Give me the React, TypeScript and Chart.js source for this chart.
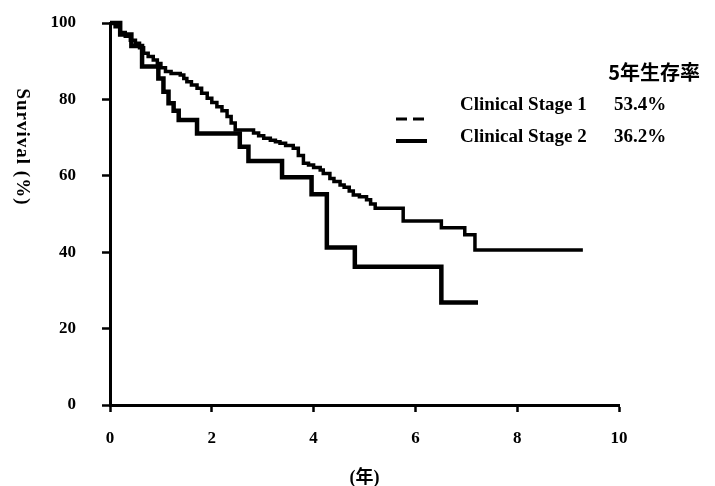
import React, { useEffect, useRef } from "react";
import { Chart, registerables } from "chart.js";

Chart.register(...registerables);

// Kaplan-Meier curves (years, survival %)
const stage1Years = [0, 0.1, 0.2, 0.3, 0.4, 0.5, 0.58, 0.66, 0.75, 0.85, 0.93, 1.0, 1.09, 1.2, 1.38, 1.45, 1.51, 1.6, 1.71, 1.8, 1.91, 2.0, 2.1, 2.2, 2.3, 2.38, 2.46, 2.82, 2.92, 3.02, 3.15, 3.25, 3.34, 3.45, 3.6, 3.7, 3.8, 3.9, 4.0, 4.13, 4.19, 4.32, 4.4, 4.52, 4.6, 4.7, 4.78, 4.9, 5.04, 5.12, 5.21, 5.76, 6.51, 6.97, 7.17, 9.29];
const stage1Survival = [100, 99, 97.5, 96.5, 95.5, 94.7, 93.5, 92.1, 91.2, 90.3, 89.4, 88.3, 87.3, 86.8, 86.4, 85.5, 84.6, 83.8, 82.9, 81.6, 80.3, 79.2, 78.1, 77, 75.5, 73.8, 72, 71.2, 70.5, 69.8, 69.3, 68.9, 68.5, 67.9, 67.2, 65.3, 63.3, 62.8, 62.2, 61.5, 60.6, 59.3, 58.5, 57.6, 57, 56, 55, 54.5, 53.7, 52.6, 51.5, 48.2, 46.4, 44.6, 40.6, 40.6];

const stage2Years = [0, 0.2, 0.42, 0.63, 0.95, 1.05, 1.15, 1.25, 1.35, 1.71, 2.55, 2.72, 3.38, 3.96, 4.26, 4.81, 6.51, 7.23];
const stage2Survival = [100, 97, 94, 88.6, 85.5, 82, 79, 77, 74.6, 71.1, 67.6, 63.9, 59.6, 55.2, 41.2, 36.2, 26.8, 26.8];

const legendTitle = "5年生存率";
const seriesNames = ["Clinical Stage 1", "Clinical Stage 2"];
const fiveYearRates = ["53.4%", "36.2%"];
const xTitle = "(年)";
const yTitle = "Survival (%)";

const SERIF = "'Liberation Serif', 'Noto Sans CJK JP', serif";

const annotationPlugin = {
  id: "kmAnnotations",
  afterDraw(chart: any) {
    const ctx = chart.ctx as CanvasRenderingContext2D;
    ctx.save();
    ctx.fillStyle = "#000";
    ctx.strokeStyle = "#000";

    // y title, rotated clockwise
    ctx.save();
    ctx.translate(22, 147);
    ctx.rotate(Math.PI / 2);
    ctx.font = `bold 19px ${SERIF}`;
    (ctx as any).letterSpacing = "1px";
    ctx.textAlign = "center";
    ctx.textBaseline = "middle";
    ctx.fillText(yTitle, 0, 0);
    ctx.restore();

    // legend title
    ctx.font = `bold 20px 'Noto Sans CJK JP', sans-serif`;
    ctx.textAlign = "right";
    ctx.textBaseline = "middle";
    ctx.fillText(legendTitle, 700, 72, 98);

    // legend rows
    const rows = [
      { y: 105, lineY: 119, dash: [11, 6], width: 3 },
      { y: 137, lineY: 141, dash: [], width: 4 },
    ];
    rows.forEach((r, i) => {
      ctx.beginPath();
      ctx.setLineDash(r.dash);
      ctx.lineWidth = r.width;
      ctx.moveTo(396, r.lineY);
      ctx.lineTo(427, r.lineY);
      ctx.stroke();
      ctx.setLineDash([]);
      ctx.font = `bold 19px ${SERIF}`;
      ctx.textAlign = "left";
      ctx.textBaseline = "middle";
      ctx.fillText(seriesNames[i], 460, r.y, 134);
      ctx.fillText(fiveYearRates[i], 614, r.y, 66);
    });
    ctx.restore();
  },
};

export default function App() {
  const canvasRef = useRef<HTMLCanvasElement | null>(null);

  useEffect(() => {
    if (!canvasRef.current) return;
    const toPoints = (xs: number[], ys: number[]) => xs.map((x, i) => ({ x, y: ys[i] }));
    const tickFont = { family: SERIF, weight: "bold" as const, size: 17 };
    const chart = new Chart(canvasRef.current, {
      type: "line",
      data: {
        datasets: [
          {
            label: seriesNames[0],
            data: toPoints(stage1Years, stage1Survival),
            borderColor: "#000",
            borderWidth: 3.5,
            pointRadius: 0,
            stepped: "before",
            fill: false,
            clip: false,
          },
          {
            label: seriesNames[1],
            data: toPoints(stage2Years, stage2Survival),
            borderColor: "#000",
            borderWidth: 4.5,
            pointRadius: 0,
            stepped: "before",
            fill: false,
            clip: false,
          },
        ],
      },
      options: {
        animation: false,
        responsive: false,
        devicePixelRatio: 1,
        layout: { padding: { top: 23, right: 96, left: 0, bottom: 0 } },
        plugins: { legend: { display: false }, tooltip: { enabled: false } },
        scales: {
          x: {
            type: "linear",
            min: 0,
            max: 10,
            afterFit: (s: any) => {
              s.height = 81;
              s.paddingLeft = 0;
              s.paddingRight = 0;
            },
            ticks: { stepSize: 2, color: "#000", font: tickFont, padding: 16, maxRotation: 0 },
            grid: {
              display: true,
              drawOnChartArea: false,
              drawTicks: true,
              tickLength: 7,
              tickWidth: 2.5,
              tickColor: "#000",
            },
            border: { display: true, color: "#000", width: 3 },
            title: {
              display: true,
              text: xTitle,
              color: "#000",
              font: { family: SERIF, weight: "bold", size: 18 },
              padding: { top: 0, bottom: -3 },
            },
          },
          y: {
            type: "linear",
            min: 0,
            max: 100,
            afterFit: (s: any) => {
              s.width = 110;
              s.paddingTop = 0;
              s.paddingBottom = 0;
            },
            ticks: { stepSize: 20, color: "#000", font: tickFont, padding: 26 },
            grid: {
              display: true,
              drawOnChartArea: false,
              drawTicks: true,
              tickLength: 8,
              tickWidth: 2.5,
              tickColor: "#000",
            },
            border: { display: true, color: "#000", width: 3 },
          },
        },
      },
      plugins: [annotationPlugin],
    });
    return () => chart.destroy();
  }, []);

  return (
    <div style={{ position: "absolute", left: 0, top: 0, width: 715, height: 486, background: "#fff" }}>
      <canvas ref={canvasRef} width={715} height={486} style={{ display: "block", width: 715, height: 486 }} />
    </div>
  );
}
